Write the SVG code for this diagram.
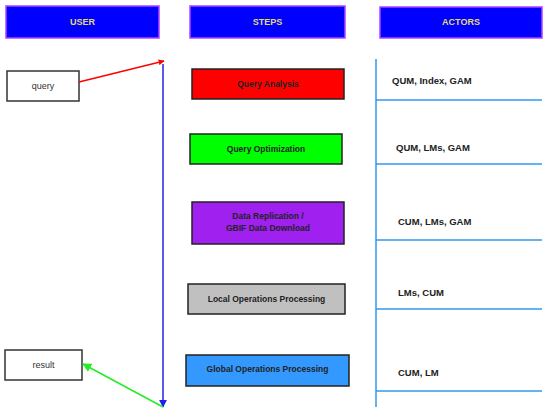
<svg xmlns="http://www.w3.org/2000/svg" width="547" height="409" viewBox="0 0 547 409">
<style>
.hdr{fill:#0000ff;stroke:#b040ff;stroke-width:1.5}
.htxt{font-family:"Liberation Sans",Arial,sans-serif;font-size:9px;font-weight:bold;fill:#e0dc70;text-anchor:middle}
.ubox{fill:#fff;stroke:#333;stroke-width:1.5}
.utxt{font-family:"Liberation Sans",Arial,sans-serif;font-size:9px;fill:#333;text-anchor:middle}
.step{stroke:#222;stroke-width:1.5}
.stxt{font-family:"Liberation Sans",Arial,sans-serif;font-size:8.5px;font-weight:bold;fill:#222;text-anchor:middle}
.atxt{font-family:"Liberation Sans",Arial,sans-serif;font-size:9.5px;font-weight:bold;fill:#222}
.aline{stroke:#3399ee;stroke-width:1.5;fill:none}
</style>
<defs>
<marker id="mr" viewBox="0 0 10 10" refX="9" refY="5" markerWidth="6" markerHeight="6" orient="auto" markerUnits="userSpaceOnUse"><path d="M0,0 L10,5 L0,10 Z" fill="#ff0000"/></marker>
<marker id="mb" viewBox="0 0 10 10" refX="9" refY="5" markerWidth="8" markerHeight="8" orient="auto" markerUnits="userSpaceOnUse"><path d="M0,0 L10,5 L0,10 Z" fill="#2020ee"/></marker>
<marker id="mg" viewBox="0 0 10 10" refX="9" refY="5" markerWidth="9" markerHeight="9" orient="auto" markerUnits="userSpaceOnUse"><path d="M0,0 L10,5 L0,10 Z" fill="#22ee22"/></marker>
</defs>
<rect width="547" height="409" fill="#fff"/>
<g id="hdr-user"><rect class="hdr" x="6" y="6" width="153" height="32"/><text class="htxt" x="82.5" y="25">USER</text></g>
<g id="hdr-steps"><rect class="hdr" x="190" y="6" width="155" height="32"/><text class="htxt" x="267.5" y="25">STEPS</text></g>
<g id="hdr-actors"><rect class="hdr" x="380" y="7" width="162" height="31"/><text class="htxt" x="461" y="25">ACTORS</text></g>

<g id="query"><rect class="ubox" x="7" y="71" width="72" height="30"/><text class="utxt" x="43" y="89">query</text></g>
<g id="result"><rect class="ubox" x="5" y="350" width="77" height="30"/><text class="utxt" x="43.5" y="368">result</text></g>

<g id="step1"><rect class="step" x="192" y="69" width="152" height="30" fill="#ff0000"/><text class="stxt" x="268" y="87">Query Analysis</text></g>
<g id="step2"><rect class="step" x="190" y="134" width="152" height="30" fill="#00ff00"/><text class="stxt" x="266" y="152">Query Optimization</text></g>
<g id="step3"><rect class="step" x="192" y="202" width="152" height="42" fill="#a020f0"/><text class="stxt" x="268" y="219">Data Replication /</text><text class="stxt" x="268" y="231">GBIF Data Download</text></g>
<g id="step4"><rect class="step" x="188" y="284" width="157" height="30" fill="#c0c0c0"/><text class="stxt" x="266.5" y="302">Local Operations Processing</text></g>
<g id="step5"><rect class="step" x="186" y="355" width="163" height="31" fill="#3399ff"/><text class="stxt" x="267.5" y="372">Global Operations Processing</text></g>

<g id="actors">
<path class="aline" d="M376,59 V407 M376,100 H542 M376,164 H542 M376,240 H542 M376,309 H542 M376,391 H542"/>
<text class="atxt" x="392" y="84">QUM, Index, GAM</text>
<text class="atxt" x="396" y="151">QUM, LMs, GAM</text>
<text class="atxt" x="398" y="225">CUM, LMs, GAM</text>
<text class="atxt" x="398" y="296">LMs, CUM</text>
<text class="atxt" x="398" y="376">CUM, LM</text>
</g>

<g id="connectors">
<line x1="79" y1="82" x2="164" y2="61" stroke="#ff0000" stroke-width="1.5" marker-end="url(#mr)"/>
<line x1="163" y1="64" x2="163" y2="407" stroke="#2020ee" stroke-width="1.5" marker-end="url(#mb)"/>
<line x1="163" y1="407" x2="83" y2="364" stroke="#22ee22" stroke-width="1.5" marker-end="url(#mg)"/>
</g>
</svg>
